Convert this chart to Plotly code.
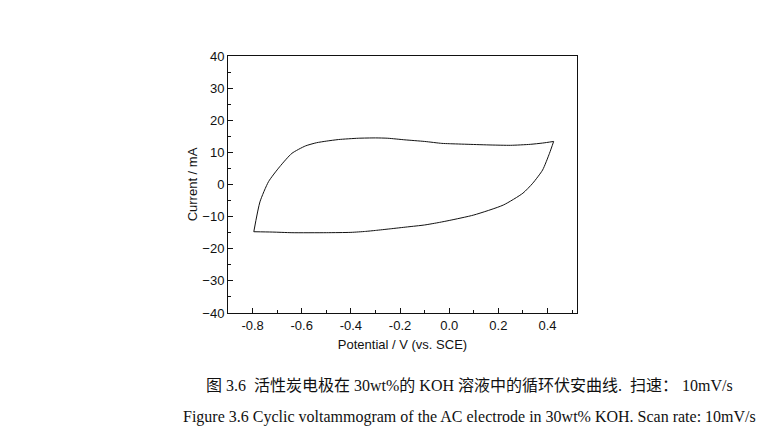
import plotly.graph_objects as go

# anodic sweep (left -> right), then cathodic sweep back to the start
potential_fwd = [-0.795, -0.77, -0.735, -0.69, -0.64, -0.585, -0.54, -0.5, -0.45, -0.37,
                 -0.3, -0.25, -0.18, -0.1, -0.03, 0.0, 0.08, 0.17, 0.25, 0.33, 0.38, 0.425]
current_fwd = [-14.7, -5.4, 0.9, 5.5, 9.7, 12.0, 13.0, 13.5, 14.0, 14.4,
               14.5, 14.4, 13.9, 13.4, 12.8, 12.7, 12.5, 12.3, 12.2, 12.5, 12.9, 13.4]
potential_rev = [0.425, 0.408, 0.38, 0.34, 0.30, 0.22, 0.10, 0.0, -0.04, -0.1, -0.17,
                 -0.24, -0.3, -0.34, -0.4, -0.5, -0.64, -0.72, -0.795]
current_rev = [13.4, 9.7, 4.5, 0.4, -2.7, -6.4, -9.5, -11.2, -11.8, -12.6, -13.2,
               -13.8, -14.3, -14.6, -14.9, -15.0, -15.0, -14.8, -14.7]

x_ticks = [-0.8, -0.6, -0.4, -0.2, 0.0, 0.2, 0.4]
x_ticktext = ["-0.8", "-0.6", "-0.4", "-0.2", "0.0", "0.2", "0.4"]
y_ticks = [-40, -30, -20, -10, 0, 10, 20, 30, 40]

caption_cn = "图 3.6  活性炭电极在 30wt%的 KOH 溶液中的循环伏安曲线.  扫速： 10mV/s"
caption_en = "Figure 3.6 Cyclic voltammogram of the AC electrode in 30wt% KOH. Scan rate: 10mV/s"

FONT = "Liberation Sans, Arial, sans-serif"
INK = "#111111"

fig = go.Figure()
for xs, ys in [(potential_fwd, current_fwd), (potential_rev, current_rev)]:
    fig.add_trace(go.Scatter(
        x=xs, y=ys, mode="lines",
        line=dict(color=INK, width=1, shape="spline", smoothing=0.6),
        showlegend=False,
    ))

axis_common = dict(
    showline=True, linecolor=INK, linewidth=1, mirror=True,
    ticks="inside", ticklen=5, tickcolor=INK,
    showgrid=False, zeroline=False,
    tickfont=dict(family=FONT, size=13, color=INK),
)

fig.update_xaxes(
    range=[-0.9, 0.52], tickvals=x_ticks, ticktext=x_ticktext,
    minor=dict(dtick=0.1, tick0=0, ticks="inside", ticklen=3, tickcolor=INK),
    title=dict(text="Potential / V (vs. SCE)", font=dict(family=FONT, size=13, color=INK),
               standoff=8),
    **axis_common,
)
fig.update_yaxes(
    range=[-40, 40], tickvals=y_ticks,
    minor=dict(dtick=5, tick0=0, ticks="inside", ticklen=3, tickcolor=INK),
    title=dict(text="Current / mA", font=dict(family=FONT, size=13, color=INK),
               standoff=1),
    **axis_common,
)

# captions under the figure (page text of the thesis)
fig.add_annotation(text=caption_cn, xref="paper", yref="paper", x=0.693, y=-0.284,
                   xanchor="center", yanchor="middle", showarrow=False,
                   font=dict(family="Liberation Serif, Noto Sans CJK SC", size=16, color=INK))
fig.add_annotation(text=caption_en, xref="paper", yref="paper", x=0.693, y=-0.405,
                   xanchor="center", yanchor="middle", showarrow=False,
                   font=dict(family="Liberation Serif, Times New Roman, serif", size=16, color=INK))

# page body has an 8px margin, so everything is shifted up/left by 8px here
fig.update_layout(
    width=776, height=448,
    margin=dict(l=220, r=207, t=48, b=143),
    plot_bgcolor="white", paper_bgcolor="white",
)

fig.write_html("out.html")
